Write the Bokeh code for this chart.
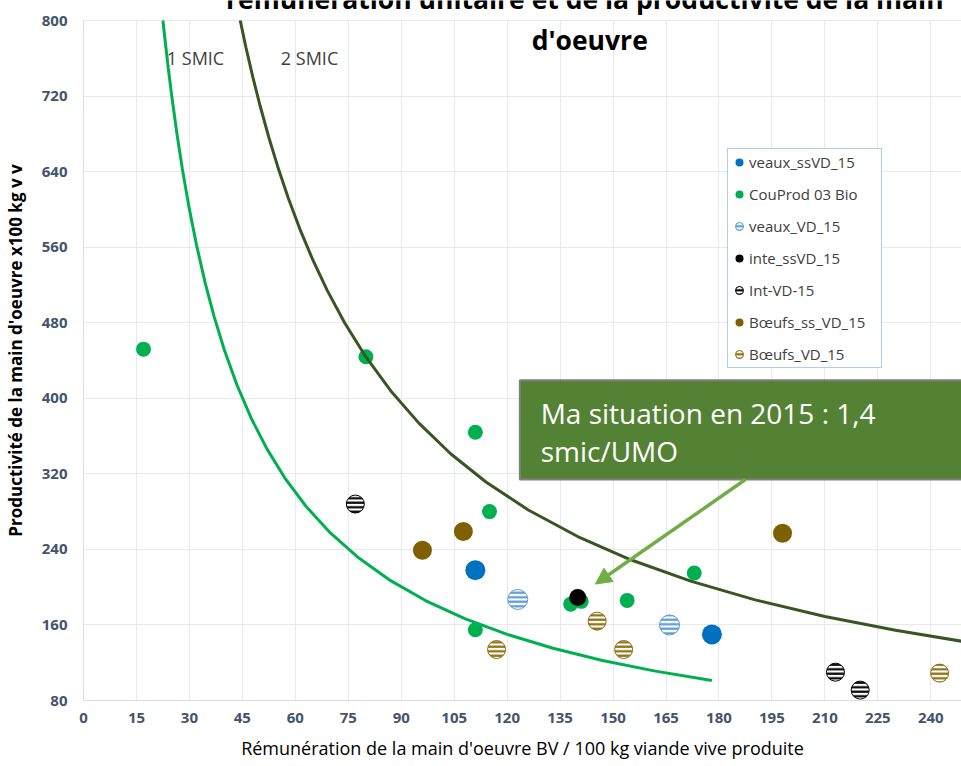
from bokeh.plotting import figure
from bokeh.models import (Range1d, Legend, LegendItem, Label, BoxAnnotation,
                          Arrow, NormalHead, FixedTicker)
from bokeh.embed import file_html
from bokeh.resources import INLINE

# ---------------- data ----------------
x_ticks = [0, 15, 30, 45, 60, 75, 90, 105, 120, 135, 150, 165, 180, 195, 210, 225, 240]
y_ticks = [80, 160, 240, 320, 400, 480, 560, 640, 720, 800]

veaux_ssVD_x = [111, 178]
veaux_ssVD_y = [218, 150]

couprod_x = [17, 80, 111, 115, 111, 138, 141, 154, 173]
couprod_y = [452, 444, 364, 280, 155, 182, 185, 186, 215]

veaux_VD_x = [123, 166]
veaux_VD_y = [187, 160]

inte_ssVD_x = [140]
inte_ssVD_y = [189]

int_VD_x = [77, 213, 220]
int_VD_y = [288, 110, 91]

boeufs_ssVD_x = [96, 107.6, 198]
boeufs_ssVD_y = [239, 259, 257]

boeufs_VD_x = [117, 145.5, 153, 242.5]
boeufs_VD_y = [134, 164, 134, 109]

smic1_x = [22.5, 23, 24, 25, 26.5, 28, 30, 32, 34.5, 37, 40, 43.5, 47.5, 52, 57, 63,
           70, 78, 87, 97, 108, 120, 133, 147, 162, 178]
smic1_y = [800, 782.6, 750, 720, 679.2, 642.9, 600, 562.5, 521.7, 486.5, 450, 413.8,
           378.9, 346.2, 315.8, 285.7, 257.1, 230.8, 206.9, 185.6, 166.7, 150, 135.3,
           122.4, 111.1, 101.1]

smic2_x = [44.4, 46, 48, 50, 52.5, 55, 58, 61.5, 65, 69, 74, 80, 87, 95, 104, 114, 126,
           140, 155, 172, 190, 210, 230, 250]
smic2_y = [800, 771.7, 739.6, 710, 676.2, 645.5, 612.1, 577.2, 546.2, 514.5, 479.7,
           443.8, 408, 373.7, 341.3, 311.4, 281.7, 253.6, 229, 206.4, 186.8, 169, 154.3, 142]

# ---------------- figure ----------------
p = figure(width=961, height=766, x_range=Range1d(0, 248.7), y_range=Range1d(80, 821.2),
           output_backend="svg", toolbar_location=None,
           min_border_left=83, min_border_right=0, min_border_top=0, min_border_bottom=66)
p.outline_line_color = None
p.background_fill_color = "white"

for ax in (p.xaxis[0], p.yaxis[0]):
    ax.major_tick_line_color = None
    ax.minor_tick_line_color = None
    ax.major_tick_out = 0
    ax.major_tick_in = 0
    ax.minor_tick_out = 0
    ax.minor_tick_in = 0
    ax.axis_line_color = "#d9dde5"
    ax.major_label_text_font = "Open Sans"
    ax.major_label_text_font_style = "bold"
    ax.major_label_text_font_size = "15px"
    ax.major_label_text_color = "#44546a"

p.xaxis.ticker = FixedTicker(ticks=x_ticks)
p.yaxis.ticker = FixedTicker(ticks=y_ticks)
p.yaxis.bounds = (80, 800)
p.xaxis.major_label_standoff = 12
p.yaxis.major_label_standoff = 16

p.xaxis.axis_label = "Rémunération de la main d'oeuvre BV / 100 kg viande vive produite"
p.xaxis.axis_label_text_font = "Open Sans"
p.xaxis.axis_label_text_font_style = "normal"
p.xaxis.axis_label_text_font_size = "18px"
p.xaxis.axis_label_text_color = "#000000"
p.xaxis.axis_label_standoff = 10

p.yaxis.axis_label = "Productivité de la main d'oeuvre x100 kg v v"
p.yaxis.axis_label_text_font = "Open Sans"
p.yaxis.axis_label_text_font_style = "bold"
p.yaxis.axis_label_text_font_size = "17px"
p.yaxis.axis_label_text_color = "#000000"
p.yaxis.axis_label_standoff = 12

p.xgrid.grid_line_color = "#e6e9ef"
p.ygrid.grid_line_color = "#e6e9ef"
p.xgrid.cross_bounds = (80, 800)

# ---------------- series ----------------
series = [
    ("veaux_ssVD_15", veaux_ssVD_x, veaux_ssVD_y, dict(size=20, fill_color="#0070c0", line_color=None)),
    ("CouProd 03 Bio", couprod_x, couprod_y, dict(size=15, fill_color="#00b050", line_color=None)),
    ("veaux_VD_15", veaux_VD_x, veaux_VD_y, dict(size=20, fill_color="white", line_color="#5b9bd5",
                                                  hatch_pattern="horizontal_line", hatch_color="#5b9bd5",
                                                  hatch_weight=2.2, hatch_scale=4.5)),
    ("inte_ssVD_15", inte_ssVD_x, inte_ssVD_y, dict(size=17, fill_color="#000000", line_color=None)),
    ("Int-VD-15", int_VD_x, int_VD_y, dict(size=18, fill_color="white", line_color="#000000",
                                            hatch_pattern="horizontal_line", hatch_color="#000000",
                                            hatch_weight=2.2, hatch_scale=4.5)),
    ("Bœufs_ss_VD_15", boeufs_ssVD_x, boeufs_ssVD_y, dict(size=19, fill_color="#7f6000", line_color=None)),
    ("Bœufs_VD_15", boeufs_VD_x, boeufs_VD_y, dict(size=18, fill_color="white", line_color="#8c6d0a",
                                                    hatch_pattern="horizontal_line", hatch_color="#8c6d0a",
                                                    hatch_weight=2.2, hatch_scale=4.5)),
]

items = []
for name, xs, ys, style in series:
    r = p.scatter(xs, ys, marker="circle", **style)
    items.append(LegendItem(label=name, renderers=[r]))

p.line(smic1_x, smic1_y, line_color="#00b050", line_width=3)
p.line(smic2_x, smic2_y, line_color="#375623", line_width=3)

legend = Legend(items=items, location=(644, 332), margin=0, padding=1, spacing=8,
                glyph_width=20, glyph_height=24, label_height=24, label_standoff=0,
                label_width=131,
                border_line_color="#5b9bd5", border_line_width=1.5,
                background_fill_color="white", background_fill_alpha=1.0,
                label_text_font="Open Sans", label_text_font_size="15px",
                label_text_color="#404040")
p.add_layout(legend)

# ---------------- annotations ----------------
p.add_layout(Label(x=23.6, y=759.8, text="1 SMIC", text_font="Open Sans", text_font_size="18px",
                   text_color="#404040", text_align="left", text_baseline="alphabetic"))
p.add_layout(Label(x=55.9, y=759.8, text="2 SMIC", text_font="Open Sans", text_font_size="18px",
                   text_color="#404040", text_align="left", text_baseline="alphabetic"))

p.add_layout(Label(x=142, y=822.3, text="rémunération unitaire et de la productivité de la main",
                   text_font="Open Sans", text_font_size="26.5px", text_font_style="bold",
                   text_color="#000000", text_align="center", text_baseline="alphabetic"))
p.add_layout(Label(x=143.4, y=778.9, text="d'oeuvre",
                   text_font="Open Sans", text_font_size="26.5px", text_font_style="bold",
                   text_color="#000000", text_align="center", text_baseline="alphabetic"))

box = BoxAnnotation(left=123.6, right=260, bottom=314, top=419,
                    fill_color="#548235", fill_alpha=1.0,
                    line_color="#7f7f7f", line_width=2, line_alpha=1.0)
p.add_layout(box)

p.add_layout(Label(x=129.5, y=383.9, text="Ma situation en 2015 : 1,4", text_font="Open Sans",
                   text_font_size="28px", text_color="white", text_align="left",
                   text_baseline="alphabetic"))
p.add_layout(Label(x=129.5, y=343.7, text="smic/UMO", text_font="Open Sans",
                   text_font_size="28px", text_color="white", text_align="left",
                   text_baseline="alphabetic"))

p.add_layout(Arrow(end=NormalHead(size=16, fill_color="#70ad47", line_color="#70ad47"),
                   x_start=187.5, y_start=314, x_end=145.0, y_end=203.3,
                   line_color="#70ad47", line_width=3.5))

open("out.html", "w").write(file_html(p, INLINE))
